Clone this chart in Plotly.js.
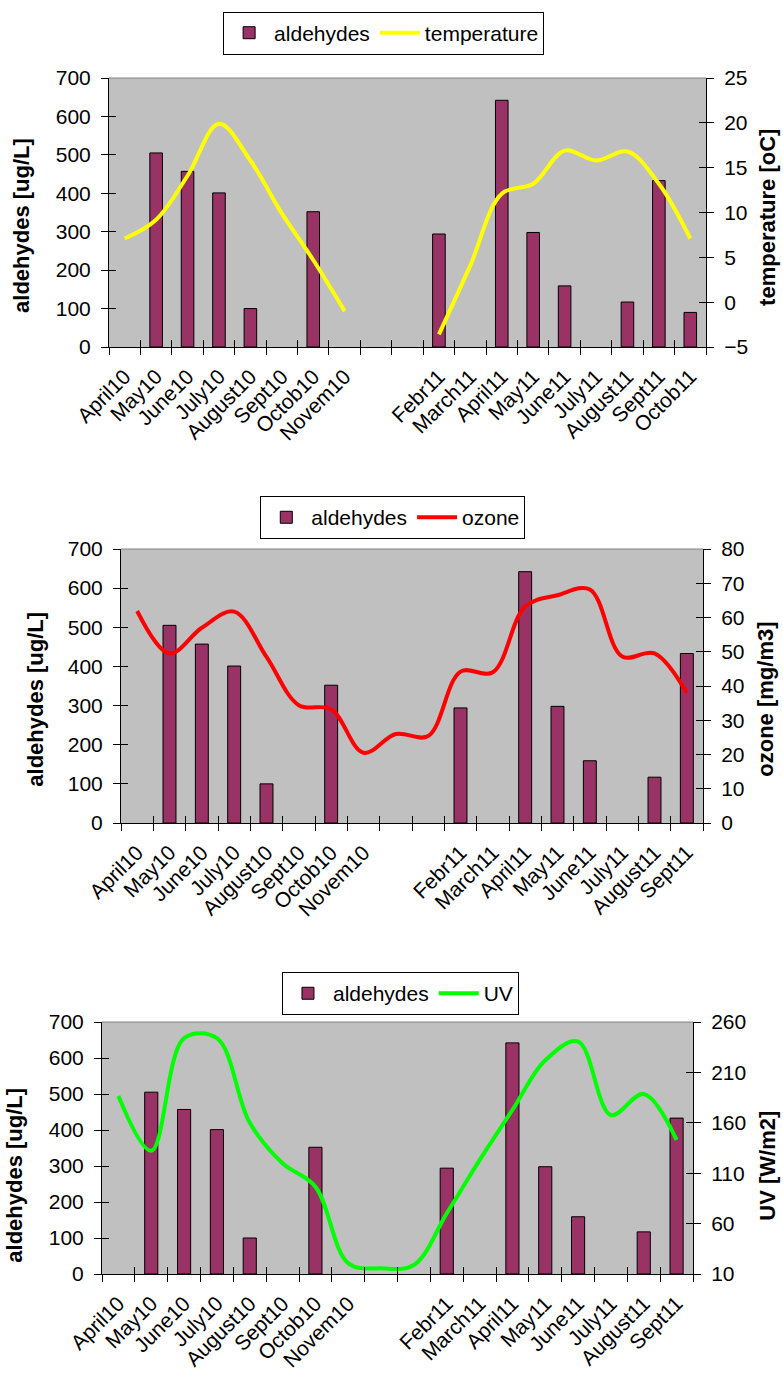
<!DOCTYPE html>
<html>
<head>
<meta charset="utf-8">
<script src="https://cdn.plot.ly/plotly-3.0.1.min.js"></script>
<style>
  html, body { margin: 0; padding: 0; background: #ffffff; }
  body { width: 783px; height: 1378px; position: relative; overflow: hidden; }
  .panel { position: absolute; left: 0; width: 783px; }
</style>
</head>
<body>
<div id="p1" class="panel"></div>
<div id="p2" class="panel"></div>
<div id="p3" class="panel"></div>
<script>
// ---------------- DATA ----------------
const categoriesTemp = ["April10","May10","June10","July10","August10","Sept10","Octob10","Novem10","","",
  "Febr11","March11","April11","May11","June11","July11","August11","Sept11","Octob11"];
const categoriesOzoneUV = ["April10","May10","June10","July10","August10","Sept10","Octob10","Novem10","","",
  "Febr11","March11","April11","May11","June11","July11","August11","Sept11"];

const aldehydesTemp = [null,505,457,401,100,null,352,null,null,null,294,null,642,298,159,null,117,433,90];
const aldehydesOzoneUV = [null,505,457,401,100,null,352,null,null,null,294,null,642,298,159,null,117,433];

const temperature = [7.1,9.2,14.1,19.9,15.8,9.9,4.7,-1.0,null,null,-3.6,4.1,12.1,13.2,16.9,15.8,16.8,13.2,7.1];
const ozone = [61.9,49.5,57.0,61.7,48.5,34.4,33.2,20.5,26.0,25.4,44.2,44.0,63.2,66.5,68.2,48.6,49.5,37.9];
const uv = [186.6,132.3,244,244,160,119.8,96.6,20.6,15.6,18.9,70.2,123,172.7,222,240.6,167.7,188.6,143];

const leftTitle = "aldehydes [ug/L]";
const leftRange = [0, 700];
const leftDtick = 100;

// ---------------- STYLE / LAYOUT ----------------
const FONT = "Liberation Sans, Arial, Helvetica, sans-serif";
const BAR_COLOR = "#993366";
const PLOT_BG = "#c0c0c0";

function buildPanel(divId, cats, bars, line, spec) {
  const n = cats.length;
  const idx = cats.map((_, i) => i);
  const labelVals = [], labelText = [];
  cats.forEach((c, i) => { if (c !== "") { labelVals.push(i); labelText.push(c); } });
  const bounds = [];
  for (let i = 0; i <= n; i++) bounds.push(i - 0.5);

  const helper = (xa, ya) => ({ type: "scatter", mode: "lines", x: [0], y: [null], xaxis: xa, yaxis: ya,
    showlegend: false, hoverinfo: "skip", line: { width: 0 } });

  const traces = [
    { type: "bar", name: "aldehydes", x: idx, y: bars, width: 0.4,
      marker: { color: BAR_COLOR, line: { color: "#000000", width: 1 } },
      xaxis: "x", yaxis: "y", hoverinfo: "skip" },
    { type: "scatter", mode: "lines", name: line.name, x: idx, y: line.values,
      line: { color: line.color, width: 4, shape: "spline", smoothing: 1 },
      connectgaps: false, xaxis: "x", yaxis: "y2", hoverinfo: "skip" },
    helper("x2", "y"), helper("x3", "y"), helper("x", "y3"), helper("x", "y4")
  ];

  const xr = [-0.5, n - 0.5];
  const tickCommon = { tickcolor: "#000000", tickwidth: 1, ticklen: 7 };
  const layout = {
    width: 783, height: spec.height,
    margin: spec.margin,
    paper_bgcolor: "rgba(0,0,0,0)",
    plot_bgcolor: PLOT_BG,
    font: { family: FONT, size: 21, color: "#000000" },
    showlegend: true,
    legend: {
      orientation: "h", x: spec.legend.x, y: spec.legend.y, xanchor: "center", yanchor: "top",
      bgcolor: "#ffffff", bordercolor: "#000000", borderwidth: 1,
      font: { family: FONT, size: 21, color: "#000000" },
      itemwidth: 40, traceorder: "normal"
    },
    xaxis: {
      range: xr, tickmode: "array", tickvals: labelVals, ticktext: labelText,
      tickangle: -45, ticks: "", showline: true, linecolor: "#000000", linewidth: 1,
      showgrid: false, zeroline: false, fixedrange: true,
      tickfont: { family: FONT, size: 21 }, ticklabelstandoff: spec.xStandoff
    },
    xaxis2: Object.assign({
      overlaying: "x", anchor: "y", side: "bottom", range: xr, tickmode: "array", tickvals: bounds,
      ticks: "outside", showticklabels: false, showline: false, showgrid: false, zeroline: false
    }, tickCommon),
    xaxis3: Object.assign({
      overlaying: "x", anchor: "y", side: "bottom", range: xr, tickmode: "array", tickvals: bounds,
      ticks: "inside", showticklabels: false, showline: false, showgrid: false, zeroline: false
    }, tickCommon),
    yaxis: Object.assign({
      range: leftRange, dtick: leftDtick, ticks: "outside", showline: true, linecolor: "#000000",
      linewidth: 1, showgrid: false, zeroline: false, fixedrange: true,
      tickfont: { family: FONT, size: 21 }, ticklabelstandoff: 6
    }, tickCommon),
    yaxis2: Object.assign({
      overlaying: "y", side: "right", anchor: "x", range: line.range, dtick: line.dtick, tick0: line.range[0],
      ticks: "outside", showline: true, linecolor: "#000000", linewidth: 1,
      showgrid: false, zeroline: false, fixedrange: true,
      tickfont: { family: FONT, size: 21 }, ticklabelstandoff: 6
    }, tickCommon),
    yaxis3: Object.assign({
      overlaying: "y", side: "left", anchor: "x", range: leftRange, dtick: leftDtick,
      ticks: "inside", showticklabels: false, showline: false, showgrid: false, zeroline: false
    }, tickCommon),
    yaxis4: Object.assign({
      overlaying: "y", side: "right", anchor: "x", range: line.range, dtick: line.dtick, tick0: line.range[0],
      ticks: "inside", showticklabels: false, showline: false, showgrid: false, zeroline: false
    }, tickCommon),
    shapes: [
      { type: "line", xref: "paper", yref: "paper", x0: 0, x1: 1, y0: 1, y1: 1,
        line: { color: "#808080", width: 1 }, layer: "above" }
    ],
    annotations: [
      { text: leftTitle, xref: "paper", yref: "paper", x: 0, y: spec.leftTitle.y,
        xanchor: "center", yanchor: "middle", xshift: spec.leftTitle.shift, textangle: -90,
        showarrow: false, font: { family: FONT, size: 22, color: "#000000", weight: "bold" } },
      { text: line.title, xref: "paper", yref: "paper", x: 1, y: spec.rightTitle.y,
        xanchor: "center", yanchor: "middle", xshift: spec.rightTitle.shift, textangle: -90,
        showarrow: false, font: { family: FONT, size: 22, color: "#000000", weight: "bold" } }
    ]
  };
  const div = document.getElementById(divId);
  div.style.top = spec.top + "px";
  div.style.height = spec.height + "px";
  Plotly.newPlot(div, traces, layout, { staticPlot: true, displayModeBar: false });
}

buildPanel("p1", categoriesTemp, aldehydesTemp,
  { name: "temperature", title: "temperature [oC]", values: temperature, color: "#ffff00", range: [-5, 25], dtick: 5 },
  { top: 0, height: 460, margin: { l: 109, r: 77, t: 72, b: 113, pad: 0 },
    legend: { x: 0.46, y: 1.247 }, xStandoff: 8,
    leftTitle: { y: 0.45, shift: -87 }, rightTitle: { y: 0.48, shift: 62 } });

buildPanel("p2", categoriesOzoneUV, aldehydesOzoneUV,
  { name: "ozone", title: "ozone [mg/m3]", values: ozone, color: "#ff0000", range: [0, 80], dtick: 10 },
  { top: 450, height: 490, margin: { l: 121, r: 80, t: 99, b: 117, pad: 0 },
    legend: { x: 0.467, y: 1.193 }, xStandoff: 8,
    leftTitle: { y: 0.45, shift: -85 }, rightTitle: { y: 0.45, shift: 63 } });

buildPanel("p3", categoriesOzoneUV, aldehydesOzoneUV,
  { name: "UV", title: "UV [W/m2]", values: uv, color: "#00ff00", range: [10, 260], dtick: 50 },
  { top: 900, height: 478, margin: { l: 102, r: 90, t: 122, b: 104, pad: 0 },
    legend: { x: 0.505, y: 1.198 }, xStandoff: 8,
    leftTitle: { y: 0.39, shift: -87 }, rightTitle: { y: 0.43, shift: 75 } });
</script>
</body>
</html>
